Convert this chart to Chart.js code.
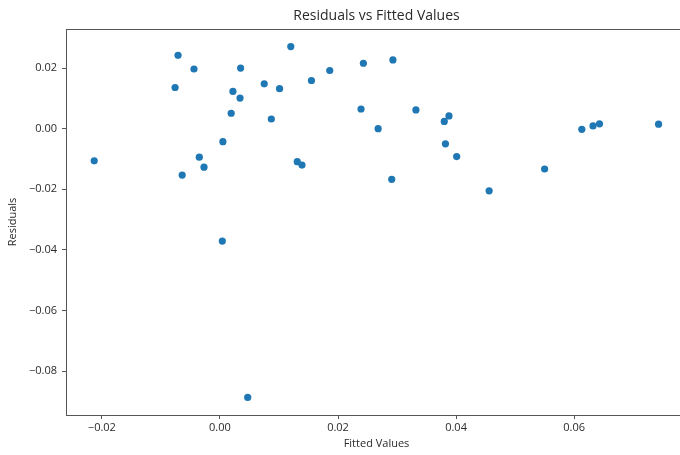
<!DOCTYPE html>
<html>
<head>
<meta charset="utf-8">
<script src="https://cdn.jsdelivr.net/npm/chart.js@4.4.1/dist/chart.umd.min.js"></script>
<style>
  html, body { margin: 0; padding: 0; background: #fff; overflow: hidden; }
  #wrap { width: 680px; height: 455px; overflow: hidden; }
</style>
</head>
<body>
<div id="wrap"><canvas id="myChart" width="700" height="455"></canvas></div>
<script>
const fittedValues = [
    -0.0213, -0.0076, -0.0071, -0.0044, -0.0035, -0.0027, -0.0064, 0.0005,
    0.0019, 0.0022, 0.0034, 0.0035, 0.0004, 0.0047, 0.0075, 0.0087,
    0.0101, 0.0120, 0.0131, 0.0139, 0.0155, 0.0186, 0.0239, 0.0243,
    0.0268, 0.0291, 0.0293, 0.0332, 0.0380, 0.0388, 0.0382, 0.0401,
    0.0456, 0.0550, 0.0613, 0.0632, 0.0643, 0.0743
];
const residuals = [
    -0.0106, 0.0136, 0.0242, 0.0197, -0.0094, -0.0127, -0.0153, -0.0043,
    0.0051, 0.0123, 0.0101, 0.0200, -0.0371, -0.0887, 0.0148, 0.0032,
    0.0132, 0.0271, -0.0109, -0.0120, 0.0159, 0.0192, 0.0065, 0.0216,
    0.0000, -0.0167, 0.0227, 0.0062, 0.0024, 0.0042, -0.0050, -0.0092,
    -0.0205, -0.0133, -0.0002, 0.0009, 0.0016, 0.0015
];
const xTicks = [-0.02, 0.00, 0.02, 0.04, 0.06];
const yTicks = [-0.08, -0.06, -0.04, -0.02, 0.00, 0.02];

const points = fittedValues.map((x, i) => ({ x: x, y: residuals[i] }));

const textColor = '#2b2b2b';
const spineColor = '#555';
const fontFamily = "'Open Sans', 'DejaVu Sans', sans-serif";

function fmtTick(v) {
    if (Math.abs(v) < 1e-9) v = 0;
    return v.toFixed(2).replace('-', '\u2212');
}

// box around the plot area (top/right spines too)
const frame = {
    id: 'frame',
    afterDraw(chart) {
        const a = chart.chartArea;
        const c = chart.ctx;
        c.save();
        c.strokeStyle = spineColor;
        c.lineWidth = 1;
        c.strokeRect(a.left + 0.5, a.top + 0.5, a.right - a.left, a.bottom - a.top);
        c.restore();
    }
};

new Chart(document.getElementById('myChart'), {
    type: 'scatter',
    data: {
        datasets: [{
            data: points,
            backgroundColor: '#1f77b4',
            borderColor: '#1f77b4',
            borderWidth: 0,
            pointRadius: 3.6,
            pointHoverRadius: 3.6
        }]
    },
    options: {
        responsive: false,
        animation: false,
        devicePixelRatio: 1,
        layout: { padding: { left: 0, top: 0, bottom: 0, right: 13 } },
        plugins: {
            legend: { display: false },
            tooltip: { enabled: false },
            title: {
                display: true,
                text: 'Residuals vs Fitted Values',
                fullSize: false,
                color: textColor,
                font: { family: fontFamily, size: 14, weight: 'normal', lineHeight: 1.2 },
                padding: { top: 8, bottom: 4.2 }
            }
        },
        scales: {
            x: {
                type: 'linear',
                min: -0.02608,
                max: 0.07912,
                afterBuildTicks: s => { s.ticks = xTicks.map(v => ({ value: v })); },
                afterFit: s => { s.height = 40; },
                grid: { drawOnChartArea: false, drawTicks: true, tickLength: 4, tickColor: spineColor },
                border: { display: true, color: spineColor, width: 1 },
                ticks: {
                    color: textColor,
                    padding: 2,
                    maxRotation: 0,
                    font: { family: fontFamily, size: 11 },
                    callback: v => fmtTick(v)
                },
                title: {
                    display: true,
                    text: 'Fitted Values',
                    color: textColor,
                    font: { family: fontFamily, size: 11, lineHeight: 1.2 },
                    padding: { top: 0, bottom: 4.5 }
                }
            },
            y: {
                type: 'linear',
                min: -0.0945,
                max: 0.0329,
                afterBuildTicks: s => { s.ticks = yTicks.map(v => ({ value: v })); },
                afterFit: s => { s.width = 66; },
                grid: { drawOnChartArea: false, drawTicks: true, tickLength: 4, tickColor: spineColor },
                border: { display: true, color: spineColor, width: 1 },
                ticks: {
                    color: textColor,
                    padding: 5,
                    font: { family: fontFamily, size: 11 },
                    callback: v => fmtTick(v)
                },
                title: {
                    display: true,
                    text: 'Residuals',
                    color: textColor,
                    font: { family: fontFamily, size: 11, lineHeight: 1.2 },
                    padding: { top: 6, bottom: 0 }
                }
            }
        }
    },
    plugins: [frame]
});
</script>
</body>
</html>
